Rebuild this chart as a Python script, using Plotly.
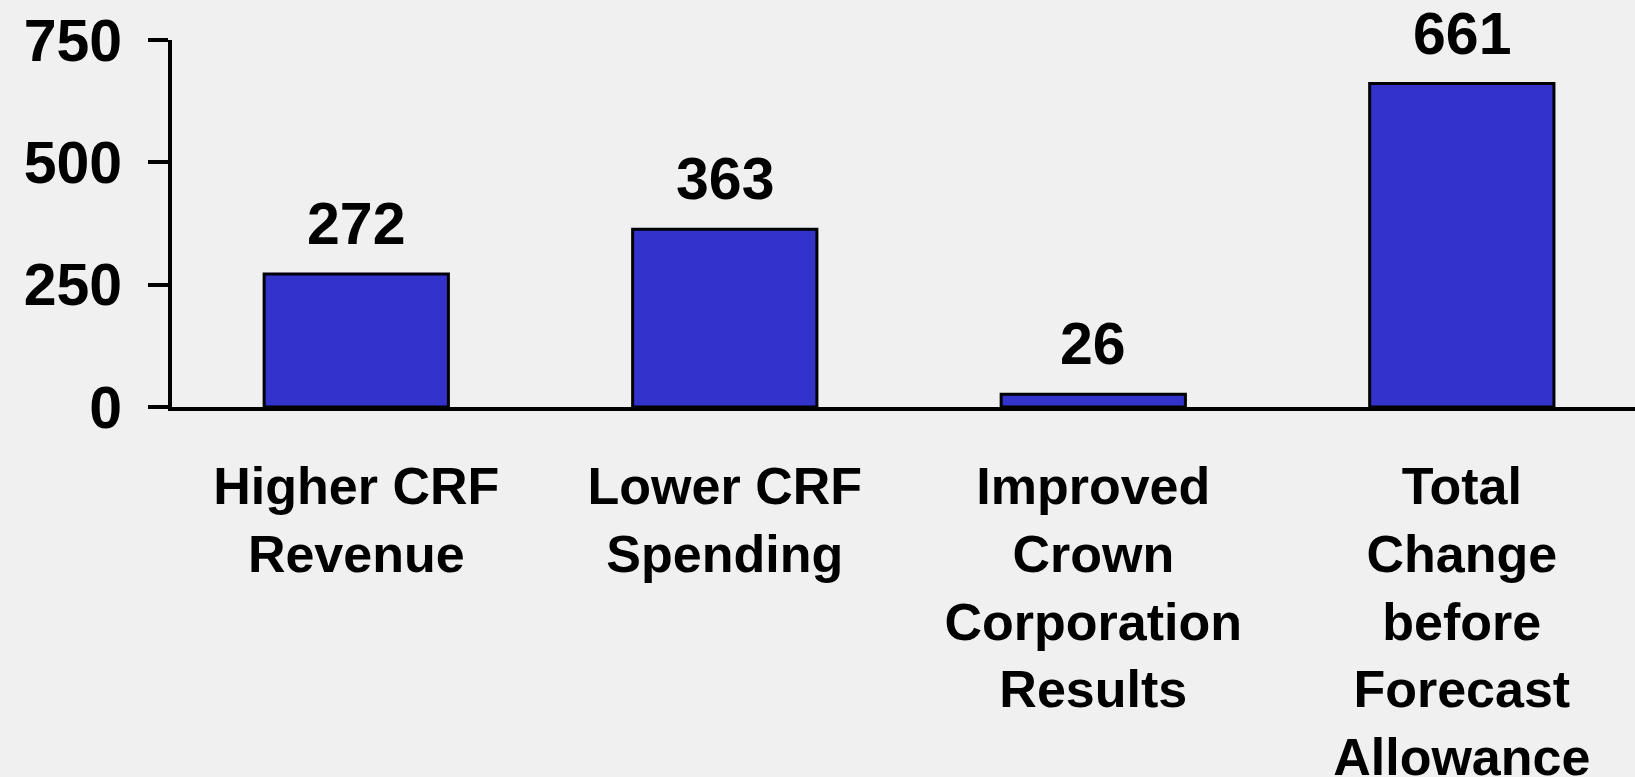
import plotly.graph_objects as go

categories = ["Higher CRF Revenue", "Lower CRF Spending",
              "Improved Crown Corporation Results",
              "Total Change before Forecast Allowance"]
tick_labels = ["Higher CRF<br>Revenue", "Lower CRF<br>Spending",
               "Improved<br>Crown<br>Corporation<br>Results",
               "Total<br>Change<br>before<br>Forecast<br>Allowance"]
values = [272, 363, 26, 661]
y_ticks = [0, 250, 500, 750]

BG = "#F0F0F0"
FONT = "Liberation Sans, Arial, sans-serif"

fig = go.Figure()
fig.add_trace(go.Bar(
    x=categories, y=values,
    marker=dict(color="#3333CC", line=dict(color="black", width=3)),
    hoverinfo="skip",
))

for c, v in zip(categories, values):
    fig.add_annotation(x=c, y=v, text=str(v), showarrow=False,
                       yanchor="bottom", yshift=15,
                       font=dict(family=FONT, size=59, color="black", weight="bold"))

fig.update_layout(
    width=1635, height=777,
    margin=dict(l=172, r=0, t=40, b=370),
    paper_bgcolor=BG, plot_bgcolor=BG,
    bargap=0.5, showlegend=False,
    font=dict(family=FONT, color="black", weight="bold"),
    xaxis=dict(
        range=[-0.5, 3.47], tickmode="array", tickvals=categories, ticktext=tick_labels,
        showline=True, linecolor="black", linewidth=4, ticks="",
        showgrid=False, zeroline=False, automargin=False,
        tickfont=dict(family=FONT, size=52, color="black", weight="bold"),
        ticklabelstandoff=31,
    ),
    yaxis=dict(
        range=[0, 750], tickvals=y_ticks,
        showline=True, linecolor="black", linewidth=4,
        ticks="outside", ticklen=20, tickwidth=4, tickcolor="black",
        showgrid=False, zeroline=False, automargin=False,
        tickfont=dict(family=FONT, size=59, color="black", weight="bold"),
        ticklabelstandoff=14,
    ),
)

fig.write_html("out.html", config={"displayModeBar": False},
               post_script="document.body.style.margin='0';")
